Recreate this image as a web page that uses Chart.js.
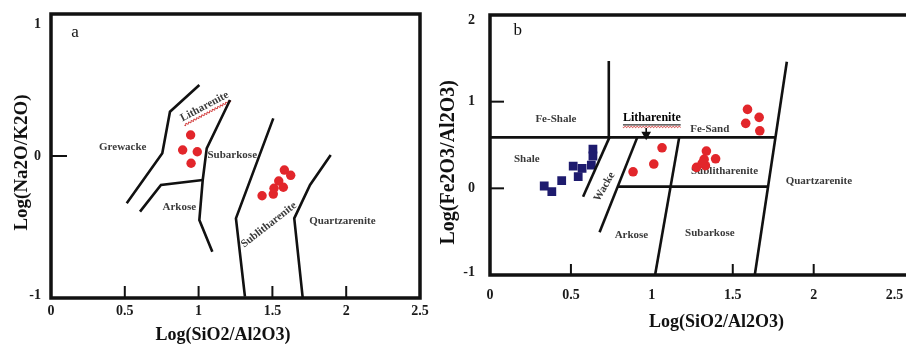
<!DOCTYPE html>
<html>
<head>
<meta charset="utf-8">
<script src="https://cdn.jsdelivr.net/npm/chart.js@4.4.0/dist/chart.umd.min.js"></script>
<style>
    html, body { margin: 0; padding: 0; background: #fff; width: 906px; height: 344px; overflow: hidden; position: relative; }
    canvas { position: absolute; top: 0; }
    #chartA { left: 0; }
    #chartB { left: 436px; }
</style>
</head>
<body>
<canvas id="chartA" width="440" height="344"></canvas>
<canvas id="chartB" width="481" height="344"></canvas>
<script>
// ---- panel a : Log(Na2O/K2O) vs Log(SiO2/Al2O3) ----
const aTickValues = [0, 0.5, 1, 1.5, 2, 2.5];
const aTickLabels = ['0', '0.5', '1', '1.5', '2', '2.5'];
const aYTickValues = [-1, 0, 1];
const aYTickLabels = ['-1', '0', '1'];

const aSampleX = [0.946, 0.892, 0.991, 0.949, 1.430, 1.506, 1.511, 1.543, 1.574, 1.581, 1.624];
const aSampleY = [0.148, 0.042, 0.030, -0.051, -0.280, -0.268, -0.227, -0.176, -0.220, -0.099, -0.136];

const aGrewackeX = [0.513, 0.754, 0.806, 1.005];
const aGrewackeY = [-0.333, 0.019, 0.312, 0.500];
const aSubarkoseX = [1.213, 1.055, 1.028, 1.005, 1.093];
const aSubarkoseY = [0.394, 0.054, -0.169, -0.451, -0.674];
const aArkoseX = [0.603, 0.745, 1.028];
const aArkoseY = [-0.392, -0.204, -0.169];
const aSublithX = [1.506, 1.253, 1.314];
const aSublithY = [0.265, -0.439, -0.990];
const aQuartzX = [1.895, 1.755, 1.648, 1.705];
const aQuartzY = [0.007, -0.204, -0.439, -0.995];

const aFieldNames = ['Grewacke', 'Litharenite', 'Subarkose', 'Arkose', 'Sublitharenite', 'Quartzarenite'];
const aFieldX = [0.486, 1.040, 1.228, 0.869, 1.476, 1.974];
const aFieldY = [0.063, 0.348, 0.007, -0.357, -0.485, -0.456];
const aFieldRot = [0, -28, 0, 0, -38, 0];

// ---- panel b : Log(Fe2O3/Al2O3) vs Log(SiO2/Al2O3) ----
const bTickValues = [0, 0.5, 1, 1.5, 2, 2.5];
const bTickLabels = ['0', '0.5', '1', '1.5', '2', '2.5'];
const bYTickValues = [-1, 0, 1, 2];
const bYTickLabels = ['-1', '0', '1', '2'];

const bRedX = [1.591, 1.663, 1.580, 1.667, 1.063, 1.012, 0.884, 1.337, 1.394, 1.323, 1.276, 1.331, 1.311];
const bRedY = [0.911, 0.819, 0.750, 0.664, 0.468, 0.280, 0.191, 0.430, 0.341, 0.334, 0.242, 0.261, 0.289];
const bBlueX = [0.636, 0.636, 0.626, 0.514, 0.569, 0.545, 0.443, 0.335, 0.382];
const bBlueY = [0.453, 0.373, 0.269, 0.257, 0.231, 0.134, 0.088, 0.027, -0.039];

const bTopX = [0, 1.764];
const bTopY = [0.588, 0.588];
const bFeShaleX = [0.734, 0.734];
const bFeShaleY = [1.468, 0.588];
const bShaleX = [0.738, 0.575];
const bShaleY = [0.588, -0.097];
const bWackeX = [0.910, 0.677];
const bWackeY = [0.588, -0.507];
const bMiddleX = [0.789, 1.718];
const bMiddleY = [0.020, 0.020];
const bSubarkoseX = [1.169, 1.020];
const bSubarkoseY = [0.588, -1.0];
const bQuartzX = [1.834, 1.636];
const bQuartzY = [1.460, -1.0];
const bArrowX = [0.965, 0.965];
const bArrowY = [0.695, 0.620];

const bFieldNames = ['Fe-Shale', 'Litharenite', 'Fe-Sand', 'Shale', 'Wacke', 'Sublitharenite', 'Quartzarenite', 'Arkose', 'Subarkose'];
const bFieldX = [0.407, 1.000, 1.358, 0.227, 0.707, 1.449, 2.032, 0.874, 1.358];
const bFieldY = [0.799, 0.807, 0.684, 0.338, 0.018, 0.203, 0.088, -0.535, -0.512];
const bFieldRot = [0, 0, 0, 0, -60, 0, 0, 0, 0];

const serif = '"Liberation Serif", "Times New Roman", serif';
const red = '#e2262b';
const navy = '#1e1b6e';

const pts = (xs, ys) => xs.map((x, i) => ({ x: x, y: ys[i] }));

function boundary(xs, ys) {
    return {
        data: pts(xs, ys),
        showLine: true,
        borderColor: '#111',
        borderWidth: 2.6,
        pointRadius: 0,
        fill: false,
        tension: 0
    };
}

// red spell-check wave under a word
function drawSquiggle(ctx, w, y) {
    ctx.strokeStyle = '#d23c3c';
    ctx.lineWidth = 0.9;
    ctx.beginPath();
    for (let i = 0; i <= w; i += 0.5) {
        const yy = y + Math.sin(i * Math.PI / 1.5) * 0.9;
        if (i === 0) ctx.moveTo(-w / 2 + i, yy); else ctx.lineTo(-w / 2 + i, yy);
    }
    ctx.stroke();
}

// draws frame, inside ticks, tick labels, titles and field names
function diagramPlugin(cfg) {
    return {
        id: 'diagram',
        beforeDatasetsDraw(chart) {
            const ctx = chart.ctx, xs = chart.scales.x, ys = chart.scales.y;
            cfg.names.forEach((t, i) => {
                ctx.save();
                ctx.translate(xs.getPixelForValue(cfg.nameX[i]), ys.getPixelForValue(cfg.nameY[i]));
                ctx.rotate(cfg.nameRot[i] * Math.PI / 180);
                const special = t === 'Litharenite';
                ctx.font = (special && cfg.underline ? 'bold 12px ' : 'bold 11px ') + serif;
                ctx.fillStyle = special && cfg.underline ? '#000' : '#3a3a3a';
                ctx.textAlign = 'center';
                ctx.textBaseline = 'middle';
                ctx.fillText(t, 0, 0);
                if (special) {
                    const w = ctx.measureText(t).width;
                    if (cfg.underline) {
                        ctx.strokeStyle = '#000';
                        ctx.lineWidth = 1;
                        ctx.beginPath();
                        ctx.moveTo(-w / 2, 6.5);
                        ctx.lineTo(w / 2, 6.5);
                        ctx.stroke();
                        drawSquiggle(ctx, w, 8.5);
                    } else {
                        drawSquiggle(ctx, w, 7);
                    }
                }
                ctx.restore();
            });
        },
        afterDraw(chart) {
            const ctx = chart.ctx, a = chart.chartArea, xs = chart.scales.x, ys = chart.scales.y;
            ctx.save();
            // frame
            ctx.strokeStyle = '#111';
            ctx.lineWidth = 3.5;
            ctx.strokeRect(a.left, a.top, a.right - a.left, a.bottom - a.top);
            // inside ticks
            ctx.lineWidth = 2;
            cfg.xTickMarks.forEach(v => {
                const px = xs.getPixelForValue(v);
                ctx.beginPath();
                ctx.moveTo(px, a.bottom);
                ctx.lineTo(px, a.bottom - cfg.tickLen);
                ctx.stroke();
            });
            cfg.yTickMarks.forEach(v => {
                const py = ys.getPixelForValue(v);
                ctx.beginPath();
                ctx.moveTo(a.left, py);
                ctx.lineTo(a.left + cfg.yTickLen, py);
                ctx.stroke();
            });
            // tick labels
            ctx.fillStyle = '#1a1a1a';
            ctx.font = 'bold 14px ' + serif;
            ctx.textAlign = 'center';
            ctx.textBaseline = 'middle';
            cfg.xTicks.forEach((v, i) => {
                ctx.fillText(cfg.xLabels[i], xs.getPixelForValue(v), a.bottom + cfg.xLabelGap);
            });
            ctx.textAlign = 'right';
            cfg.yTicks.forEach((v, i) => {
                const py = Math.min(Math.max(ys.getPixelForValue(v), a.top + cfg.topInset), a.bottom - 3);
                ctx.fillText(cfg.yLabels[i], a.left - cfg.yLabelGap, py);
            });
            // axis titles
            ctx.fillStyle = '#111';
            ctx.textAlign = 'center';
            ctx.font = 'bold 18px ' + serif;
            ctx.fillText('Log(SiO2/Al2O3)', xs.getPixelForValue(cfg.xTitleAt), a.bottom + cfg.xTitleGap);
            ctx.save();
            ctx.translate(a.left - cfg.yTitleGap, ys.getPixelForValue(cfg.yTitleAt));
            ctx.rotate(-Math.PI / 2);
            ctx.font = 'bold ' + cfg.yTitleSize + 'px ' + serif;
            ctx.fillText(cfg.yTitle, 0, 0);
            ctx.restore();
            // panel letter
            ctx.font = '17px ' + serif;
            ctx.fillText(cfg.letter, xs.getPixelForValue(cfg.letterX), ys.getPixelForValue(cfg.letterY));
            ctx.restore();
        }
    };
}

function baseOptions(padding, xMax, yMin, yMax) {
    return {
        responsive: false,
        animation: false,
        layout: { padding: padding },
        plugins: { legend: { display: false }, tooltip: { enabled: false } },
        scales: {
            x: { type: 'linear', display: false, min: 0, max: xMax },
            y: { type: 'linear', display: false, min: yMin, max: yMax }
        }
    };
}

new Chart(document.getElementById('chartA'), {
    type: 'scatter',
    data: {
        datasets: [
            boundary(aGrewackeX, aGrewackeY),
            boundary(aSubarkoseX, aSubarkoseY),
            boundary(aArkoseX, aArkoseY),
            boundary(aSublithX, aSublithY),
            boundary(aQuartzX, aQuartzY),
            {
                data: pts(aSampleX, aSampleY),
                pointStyle: 'circle',
                pointRadius: 4.7,
                backgroundColor: red,
                borderWidth: 0
            }
        ]
    },
    options: baseOptions({ left: 51, top: 14, right: 20, bottom: 46 }, 2.5, -1, 1),
    plugins: [diagramPlugin({
        names: aFieldNames, nameX: aFieldX, nameY: aFieldY, nameRot: aFieldRot, underline: false,
        xTicks: aTickValues, xLabels: aTickLabels, yTicks: aYTickValues, yLabels: aYTickLabels,
        xTickMarks: [0.5, 1, 1.5, 2], yTickMarks: [0], tickLen: 12, yTickLen: 16,
        xLabelGap: 13, yLabelGap: 10, topInset: 10,
        xTitleAt: 1.165, xTitleGap: 37,
        yTitle: 'Log(Na2O/K2O)', yTitleAt: -0.046, yTitleGap: 29, yTitleSize: 19,
        letter: 'a', letterX: 0.163, letterY: 0.873
    })]
});

new Chart(document.getElementById('chartB'), {
    type: 'scatter',
    data: {
        datasets: [
            boundary(bTopX, bTopY),
            boundary(bFeShaleX, bFeShaleY),
            boundary(bShaleX, bShaleY),
            boundary(bWackeX, bWackeY),
            boundary(bMiddleX, bMiddleY),
            boundary(bSubarkoseX, bSubarkoseY),
            boundary(bQuartzX, bQuartzY),
            {
                data: pts(bArrowX, bArrowY),
                showLine: true,
                borderColor: '#111',
                pointStyle: 'triangle',
                pointRotation: 180,
                pointRadius: [0, 4],
                backgroundColor: '#111',
                borderWidth: 1.6
            },
            {
                data: pts(bBlueX, bBlueY),
                pointStyle: 'rect',
                pointRadius: 6.2,
                backgroundColor: navy,
                borderWidth: 0
            },
            {
                data: pts(bRedX, bRedY),
                pointStyle: 'circle',
                pointRadius: 4.8,
                backgroundColor: red,
                borderWidth: 0
            }
        ]
    },
    options: baseOptions({ left: 54, top: 15, right: 1, bottom: 69 }, 2.6, -1, 2),
    plugins: [diagramPlugin({
        names: bFieldNames, nameX: bFieldX, nameY: bFieldY, nameRot: bFieldRot, underline: true,
        xTicks: bTickValues, xLabels: bTickLabels, yTicks: bYTickValues, yLabels: bYTickLabels,
        xTickMarks: [0.5, 1.5, 2], yTickMarks: [0, 1], tickLen: 11, yTickLen: 14,
        xLabelGap: 20, yLabelGap: 15, topInset: 5,
        xTitleAt: 1.40, xTitleGap: 47,
        yTitle: 'Log(Fe2O3/Al2O3)', yTitleAt: 0.30, yTitleGap: 41, yTitleSize: 20,
        letter: 'b', letterX: 0.171, letterY: 1.826
    })]
});
</script>
</body>
</html>
